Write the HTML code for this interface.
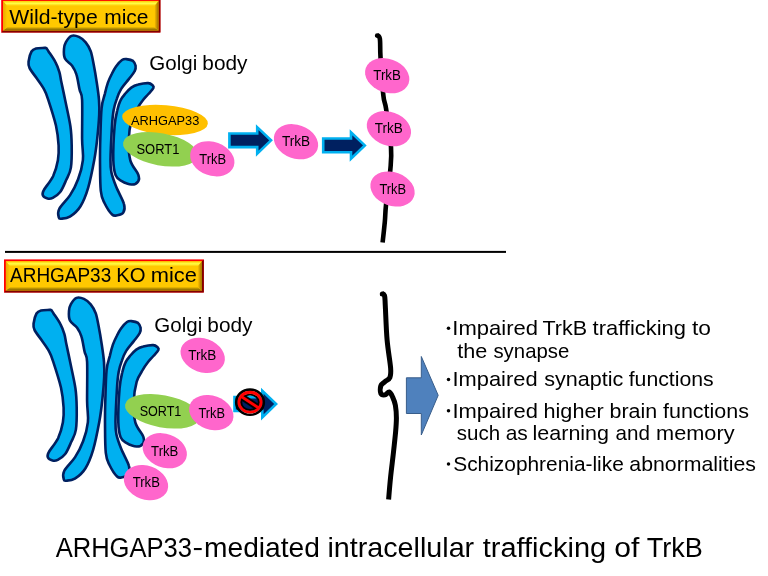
<!DOCTYPE html>
<html><head><meta charset="utf-8"><style>
html,body{margin:0;padding:0;background:#fff;width:768px;height:576px;overflow:hidden}
svg{display:block;will-change:transform}
text{font-family:"Liberation Sans",sans-serif}
</style></head><body>
<svg width="768" height="576" viewBox="0 0 768 576">
<defs>
<linearGradient id="bvT" x1="0" y1="0" x2="0" y2="1"><stop offset="0" stop-color="#FFC800"/><stop offset="0.5" stop-color="#FFFF48"/><stop offset="1" stop-color="#FFC800"/></linearGradient>
<linearGradient id="bvB" x1="0" y1="0" x2="0" y2="1"><stop offset="0" stop-color="#E0B000"/><stop offset="1" stop-color="#7A5C00"/></linearGradient>
<linearGradient id="bvL" x1="0" y1="0" x2="1" y2="0"><stop offset="0" stop-color="#E8A800"/><stop offset="1" stop-color="#FFC800"/></linearGradient>
<linearGradient id="bvR" x1="0" y1="0" x2="1" y2="0"><stop offset="0" stop-color="#FFC000"/><stop offset="1" stop-color="#987000"/></linearGradient>
</defs>
<rect x="1.2" y="-1" width="159.2" height="33.5" fill="#FF0000"/><polygon points="160.4,-1 160.4,32.5 1.2,32.5 3.1,30.6 158.5,30.6 158.5,0.9" fill="#800000"/><rect x="3.1" y="0.9" width="155.4" height="29.7" fill="#FFC800"/><polygon points="3.1,0.9 158.5,0.9 154.5,5.9 7.1,5.9" fill="url(#bvT)"/><polygon points="3.1,30.6 7.1,27.3 154.5,27.3 158.5,30.6" fill="url(#bvB)"/><polygon points="3.1,0.9 7.1,5.9 7.1,27.3 3.1,30.6" fill="url(#bvL)"/><polygon points="158.5,0.9 158.5,30.6 154.5,27.3 154.5,5.9" fill="url(#bvR)"/>
<text transform="translate(9.21,23.70) scale(1.0517,1)" font-size="20.20" fill="#000">Wild-type</text><text transform="translate(104.21,23.70) scale(1.0394,1)" font-size="20.20" fill="#000">mice</text>
<g transform="translate(0,0)" fill="#00B0F0" stroke="#002060" stroke-width="2.6" stroke-linejoin="round"><path d="M28.6,61.5 C28.9,58.7 30.3,53.6 31.5,51.5 C32.8,49.3 33.8,49.0 36.0,48.4 C38.1,47.9 42.8,48.0 44.5,47.9 C46.2,47.8 45.6,47.5 46.2,48.0 C46.8,48.6 46.9,48.9 48.4,51.2 C49.9,53.5 53.5,58.4 55.3,61.9 C57.2,65.4 58.3,68.7 59.4,72.1 C60.4,75.5 60.4,77.6 61.4,82.3 C62.4,87.0 63.7,92.9 65.2,100.3 C66.7,107.6 69.3,118.6 70.4,126.2 C71.5,133.7 71.6,138.7 71.7,145.6 C71.8,152.5 71.8,161.9 70.9,167.6 C70.0,173.3 68.1,175.7 66.3,179.8 C64.5,183.8 62.5,189.0 60.2,192.0 C58.0,195.0 54.9,196.7 52.8,197.8 C50.7,198.9 49.2,198.9 47.5,198.5 C45.9,198.1 43.5,196.8 42.9,195.5 C42.2,194.1 42.0,193.5 43.7,190.3 C45.4,187.1 50.7,181.2 53.1,176.2 C55.4,171.1 57.0,165.3 57.9,160.2 C58.8,155.1 58.9,151.3 58.6,145.5 C58.3,139.8 57.7,133.4 56.0,125.7 C54.2,118.1 50.2,105.7 48.2,99.6 C46.3,93.5 46.1,92.9 44.1,89.4 C42.2,85.8 39.1,81.8 36.7,78.3 C34.2,74.7 30.8,70.8 29.5,67.9 C28.1,65.1 28.3,64.2 28.6,61.5Z"/><path d="M64.0,48.8 C64.2,46.1 64.7,44.3 65.9,42.2 C67.2,40.0 69.3,36.8 71.5,35.9 C73.6,35.0 76.5,35.8 78.9,36.9 C81.3,38.0 83.7,39.9 85.7,42.3 C87.7,44.7 89.3,47.5 90.7,51.2 C92.0,55.0 92.7,59.5 93.7,64.6 C94.7,69.8 95.8,76.3 96.7,82.2 C97.6,88.1 98.6,94.6 99.0,100.1 C99.4,105.6 99.5,108.5 99.2,114.9 C98.9,121.4 98.0,131.4 97.2,138.9 C96.4,146.3 95.8,151.6 94.3,159.8 C92.8,167.9 90.5,179.9 88.2,187.6 C85.9,195.4 83.5,201.4 80.5,206.2 C77.5,211.1 73.1,214.6 69.9,216.7 C66.7,218.8 63.1,218.6 61.2,218.7 C59.4,218.8 59.1,219.1 58.8,217.4 C58.4,215.8 57.3,212.7 59.2,209.0 C61.1,205.2 66.9,200.1 70.1,195.1 C73.3,190.1 76.0,185.0 78.1,179.2 C80.3,173.4 82.2,166.8 82.9,160.1 C83.6,153.4 82.2,149.0 82.1,139.0 C82.0,129.0 82.5,108.1 82.1,99.9 C81.7,91.7 80.5,94.0 79.6,89.7 C78.6,85.5 77.7,78.4 76.4,74.4 C75.2,70.4 74.0,68.4 72.1,65.7 C70.1,63.1 66.3,61.3 64.9,58.4 C63.6,55.6 63.8,51.5 64.0,48.8Z"/><path d="M116.0,66.4 C117.7,64.1 120.3,61.2 122.0,60.0 C123.7,58.8 124.6,58.9 126.4,59.1 C128.2,59.3 131.4,59.8 133.0,60.9 C134.5,62.1 135.3,64.1 135.6,65.8 C135.9,67.5 135.8,69.1 134.6,71.3 C133.5,73.6 130.8,76.5 128.6,79.4 C126.3,82.3 123.1,85.7 121.2,88.9 C119.2,92.1 118.1,95.1 116.9,98.6 C115.6,102.0 114.5,105.2 113.7,109.8 C112.9,114.3 112.5,117.5 112.0,125.9 C111.5,134.3 110.6,152.2 110.5,160.0 C110.4,167.8 110.6,168.3 111.5,172.8 C112.5,177.3 114.2,181.9 116.3,187.1 C118.4,192.3 122.9,199.9 124.0,204.1 C125.2,208.3 124.5,210.5 123.4,212.3 C122.3,214.2 119.1,214.9 117.3,215.2 C115.4,215.6 114.2,216.5 112.1,214.5 C110.0,212.5 106.5,207.1 104.6,203.2 C102.7,199.2 101.5,198.1 100.8,190.9 C100.0,183.7 100.1,168.6 100.0,160.0 C100.0,151.4 100.0,147.7 100.3,139.0 C100.6,130.4 100.8,115.6 101.6,108.1 C102.3,100.6 103.7,98.3 104.8,94.1 C105.8,89.8 106.7,86.2 107.9,82.7 C109.1,79.3 110.6,76.2 112.0,73.5 C113.3,70.8 114.4,68.6 116.0,66.4Z"/><path d="M131.3,87.6 C133.5,86.1 135.5,85.3 138.3,84.6 C141.1,83.8 145.8,83.0 148.2,83.1 C150.6,83.2 151.7,84.5 152.6,85.3 C153.4,86.1 154.1,86.6 153.4,88.0 C152.7,89.5 150.3,91.8 148.4,94.0 C146.5,96.2 143.8,98.9 142.1,101.2 C140.3,103.5 139.6,104.6 137.9,107.7 C136.1,110.7 133.3,114.3 131.7,119.6 C130.2,125.0 128.9,133.2 128.7,140.0 C128.5,146.7 128.8,154.6 130.3,160.3 C131.9,166.1 136.8,171.0 138.2,174.4 C139.5,177.9 139.4,179.5 138.3,181.2 C137.2,182.9 134.4,184.6 131.6,184.5 C128.8,184.4 123.9,182.3 121.3,180.8 C118.6,179.2 116.9,178.6 115.6,175.1 C114.3,171.7 113.5,168.1 113.3,160.0 C113.1,151.8 113.9,134.4 114.6,126.1 C115.3,117.8 116.3,114.5 117.3,110.3 C118.2,106.0 119.0,103.4 120.4,100.6 C121.7,97.8 123.6,95.7 125.4,93.5 C127.2,91.4 129.2,89.1 131.3,87.6Z"/></g>
<text transform="translate(149.37,69.50) scale(1.0419,1)" font-size="19.70" fill="#000">Golgi</text><text transform="translate(202.36,69.50) scale(1.0553,1)" font-size="19.70" fill="#000">body</text>
<ellipse cx="165" cy="120" rx="43" ry="14.8" fill="#FFC000" transform="rotate(5 165 120)"/>
<text transform="translate(130.97,125.40) scale(0.9381,1)" font-size="13.66" fill="#000">ARHGAP33</text>
<ellipse cx="160.5" cy="149.3" rx="38" ry="16.1" fill="#92D050" transform="rotate(10.5 160.5 149.3)"/>
<text transform="translate(136.41,153.80) scale(0.9237,1)" font-size="14.04" fill="#000">SORT1</text>
<ellipse cx="212.3" cy="158.8" rx="22.8" ry="16.8" fill="#FF66CC" transform="rotate(20 212.3 158.8)"/><text transform="translate(199.31,164.00) scale(0.9164,1)" font-size="14.10" fill="#000">TrkB</text>
<polygon points="229.40,133.45 257.20,133.45 257.20,127.18 271.02,140.31 257.20,153.68 257.20,147.15 229.40,147.15" fill="#002060" stroke="#00B0F0" stroke-width="2.6" stroke-linejoin="miter" stroke-miterlimit="10"/>
<ellipse cx="296" cy="141.7" rx="22.8" ry="16.8" fill="#FF66CC" transform="rotate(20 296 141.7)"/><text transform="translate(281.89,145.80) scale(0.9651,1)" font-size="14.10" fill="#000">TrkB</text>
<polygon points="323.20,138.55 351.00,138.55 351.00,132.28 364.82,145.41 351.00,158.78 351.00,152.25 323.20,152.25" fill="#002060" stroke="#00B0F0" stroke-width="2.6" stroke-linejoin="miter" stroke-miterlimit="10"/>
<path d="M376.5,34.8 C377.1,35.4 379.1,34.8 379.8,38.5 C380.5,42.2 379.9,47.6 380.5,57.0 C381.1,66.4 382.4,86.3 383.3,95.0 C384.2,103.7 384.8,100.2 386.1,108.9 C387.4,117.6 390.3,136.8 391.0,147.0 C391.7,157.2 391.1,160.3 390.3,170.0 C389.5,179.7 386.9,196.3 386.0,205.0 C385.1,213.7 385.4,215.8 384.8,222.0 C384.2,228.2 383.0,239.1 382.6,242.5" fill="none" stroke="#000" stroke-width="4.6" stroke-linecap="butt" stroke-linejoin="round"/>
<circle cx="377.2" cy="35.6" r="2.3" fill="#000"/>
<ellipse cx="387.2" cy="75.7" rx="22.8" ry="16.8" fill="#FF66CC" transform="rotate(20 387.2 75.7)"/><text transform="translate(373.30,79.90) scale(0.9442,1)" font-size="14.10" fill="#000">TrkB</text>
<ellipse cx="388.9" cy="128.7" rx="22.8" ry="16.8" fill="#FF66CC" transform="rotate(20 388.9 128.7)"/><text transform="translate(374.70,133.20) scale(0.9582,1)" font-size="14.10" fill="#000">TrkB</text>
<ellipse cx="392.5" cy="189" rx="22.8" ry="16.8" fill="#FF66CC" transform="rotate(20 392.5 189)"/><text transform="translate(379.41,193.60) scale(0.9129,1)" font-size="14.10" fill="#000">TrkB</text>
<rect x="5" y="250.9" width="501" height="2" fill="#000"/>
<rect x="4" y="259.4" width="199.8" height="33.1" fill="#FF0000"/><polygon points="203.8,259.4 203.8,292.5 4,292.5 5.9,290.6 201.9,290.6 201.9,261.3" fill="#800000"/><rect x="5.9" y="261.3" width="196" height="29.3" fill="#FFC800"/><polygon points="5.9,261.3 201.9,261.3 197.9,266.3 9.9,266.3" fill="url(#bvT)"/><polygon points="5.9,290.6 9.9,287.3 197.9,287.3 201.9,290.6" fill="url(#bvB)"/><polygon points="5.9,261.3 9.9,266.3 9.9,287.3 5.9,290.6" fill="url(#bvL)"/><polygon points="201.9,261.3 201.9,290.6 197.9,287.3 197.9,266.3" fill="url(#bvR)"/>
<text transform="translate(10.06,282.40) scale(0.9387,1)" font-size="20.20" fill="#000">ARHGAP33</text><text transform="translate(116.33,282.40) scale(1.0052,1)" font-size="20.20" fill="#000">KO</text><text transform="translate(150.85,282.40) scale(1.0814,1)" font-size="20.20" fill="#000">mice</text>
<g transform="translate(5,262)" fill="#00B0F0" stroke="#002060" stroke-width="2.6" stroke-linejoin="round"><path d="M28.6,61.5 C28.9,58.7 30.3,53.6 31.5,51.5 C32.8,49.3 33.8,49.0 36.0,48.4 C38.1,47.9 42.8,48.0 44.5,47.9 C46.2,47.8 45.6,47.5 46.2,48.0 C46.8,48.6 46.9,48.9 48.4,51.2 C49.9,53.5 53.5,58.4 55.3,61.9 C57.2,65.4 58.3,68.7 59.4,72.1 C60.4,75.5 60.4,77.6 61.4,82.3 C62.4,87.0 63.7,92.9 65.2,100.3 C66.7,107.6 69.3,118.6 70.4,126.2 C71.5,133.7 71.6,138.7 71.7,145.6 C71.8,152.5 71.8,161.9 70.9,167.6 C70.0,173.3 68.1,175.7 66.3,179.8 C64.5,183.8 62.5,189.0 60.2,192.0 C58.0,195.0 54.9,196.7 52.8,197.8 C50.7,198.9 49.2,198.9 47.5,198.5 C45.9,198.1 43.5,196.8 42.9,195.5 C42.2,194.1 42.0,193.5 43.7,190.3 C45.4,187.1 50.7,181.2 53.1,176.2 C55.4,171.1 57.0,165.3 57.9,160.2 C58.8,155.1 58.9,151.3 58.6,145.5 C58.3,139.8 57.7,133.4 56.0,125.7 C54.2,118.1 50.2,105.7 48.2,99.6 C46.3,93.5 46.1,92.9 44.1,89.4 C42.2,85.8 39.1,81.8 36.7,78.3 C34.2,74.7 30.8,70.8 29.5,67.9 C28.1,65.1 28.3,64.2 28.6,61.5Z"/><path d="M64.0,48.8 C64.2,46.1 64.7,44.3 65.9,42.2 C67.2,40.0 69.3,36.8 71.5,35.9 C73.6,35.0 76.5,35.8 78.9,36.9 C81.3,38.0 83.7,39.9 85.7,42.3 C87.7,44.7 89.3,47.5 90.7,51.2 C92.0,55.0 92.7,59.5 93.7,64.6 C94.7,69.8 95.8,76.3 96.7,82.2 C97.6,88.1 98.6,94.6 99.0,100.1 C99.4,105.6 99.5,108.5 99.2,114.9 C98.9,121.4 98.0,131.4 97.2,138.9 C96.4,146.3 95.8,151.6 94.3,159.8 C92.8,167.9 90.5,179.9 88.2,187.6 C85.9,195.4 83.5,201.4 80.5,206.2 C77.5,211.1 73.1,214.6 69.9,216.7 C66.7,218.8 63.1,218.6 61.2,218.7 C59.4,218.8 59.1,219.1 58.8,217.4 C58.4,215.8 57.3,212.7 59.2,209.0 C61.1,205.2 66.9,200.1 70.1,195.1 C73.3,190.1 76.0,185.0 78.1,179.2 C80.3,173.4 82.2,166.8 82.9,160.1 C83.6,153.4 82.2,149.0 82.1,139.0 C82.0,129.0 82.5,108.1 82.1,99.9 C81.7,91.7 80.5,94.0 79.6,89.7 C78.6,85.5 77.7,78.4 76.4,74.4 C75.2,70.4 74.0,68.4 72.1,65.7 C70.1,63.1 66.3,61.3 64.9,58.4 C63.6,55.6 63.8,51.5 64.0,48.8Z"/><path d="M116.0,66.4 C117.7,64.1 120.3,61.2 122.0,60.0 C123.7,58.8 124.6,58.9 126.4,59.1 C128.2,59.3 131.4,59.8 133.0,60.9 C134.5,62.1 135.3,64.1 135.6,65.8 C135.9,67.5 135.8,69.1 134.6,71.3 C133.5,73.6 130.8,76.5 128.6,79.4 C126.3,82.3 123.1,85.7 121.2,88.9 C119.2,92.1 118.1,95.1 116.9,98.6 C115.6,102.0 114.5,105.2 113.7,109.8 C112.9,114.3 112.5,117.5 112.0,125.9 C111.5,134.3 110.6,152.2 110.5,160.0 C110.4,167.8 110.6,168.3 111.5,172.8 C112.5,177.3 114.2,181.9 116.3,187.1 C118.4,192.3 122.9,199.9 124.0,204.1 C125.2,208.3 124.5,210.5 123.4,212.3 C122.3,214.2 119.1,214.9 117.3,215.2 C115.4,215.6 114.2,216.5 112.1,214.5 C110.0,212.5 106.5,207.1 104.6,203.2 C102.7,199.2 101.5,198.1 100.8,190.9 C100.0,183.7 100.1,168.6 100.0,160.0 C100.0,151.4 100.0,147.7 100.3,139.0 C100.6,130.4 100.8,115.6 101.6,108.1 C102.3,100.6 103.7,98.3 104.8,94.1 C105.8,89.8 106.7,86.2 107.9,82.7 C109.1,79.3 110.6,76.2 112.0,73.5 C113.3,70.8 114.4,68.6 116.0,66.4Z"/><path d="M131.3,87.6 C133.5,86.1 135.5,85.3 138.3,84.6 C141.1,83.8 145.8,83.0 148.2,83.1 C150.6,83.2 151.7,84.5 152.6,85.3 C153.4,86.1 154.1,86.6 153.4,88.0 C152.7,89.5 150.3,91.8 148.4,94.0 C146.5,96.2 143.8,98.9 142.1,101.2 C140.3,103.5 139.6,104.6 137.9,107.7 C136.1,110.7 133.3,114.3 131.7,119.6 C130.2,125.0 128.9,133.2 128.7,140.0 C128.5,146.7 128.8,154.6 130.3,160.3 C131.9,166.1 136.8,171.0 138.2,174.4 C139.5,177.9 139.4,179.5 138.3,181.2 C137.2,182.9 134.4,184.6 131.6,184.5 C128.8,184.4 123.9,182.3 121.3,180.8 C118.6,179.2 116.9,178.6 115.6,175.1 C114.3,171.7 113.5,168.1 113.3,160.0 C113.1,151.8 113.9,134.4 114.6,126.1 C115.3,117.8 116.3,114.5 117.3,110.3 C118.2,106.0 119.0,103.4 120.4,100.6 C121.7,97.8 123.6,95.7 125.4,93.5 C127.2,91.4 129.2,89.1 131.3,87.6Z"/></g>
<text transform="translate(154.37,331.50) scale(1.0419,1)" font-size="19.70" fill="#000">Golgi</text><text transform="translate(207.36,331.50) scale(1.0553,1)" font-size="19.70" fill="#000">body</text>
<ellipse cx="202.7" cy="355.4" rx="22.8" ry="16.8" fill="#FF66CC" transform="rotate(20 202.7 355.4)"/><text transform="translate(188.30,360.10) scale(0.9582,1)" font-size="14.10" fill="#000">TrkB</text>
<ellipse cx="162.5" cy="411.3" rx="38" ry="16.1" fill="#92D050" transform="rotate(10.5 162.5 411.3)"/>
<text transform="translate(139.63,415.80) scale(0.8973,1)" font-size="14.04" fill="#000">SORT1</text>
<ellipse cx="211.3" cy="412.6" rx="22.8" ry="16.8" fill="#FF66CC" transform="rotate(20 211.3 412.6)"/><text transform="translate(198.46,417.90) scale(0.9076,1)" font-size="14.10" fill="#000">TrkB</text>
<ellipse cx="164.75" cy="450.7" rx="22.8" ry="16.8" fill="#FF66CC" transform="rotate(20 164.75 450.7)"/><text transform="translate(151.10,455.60) scale(0.9338,1)" font-size="14.10" fill="#000">TrkB</text>
<ellipse cx="146" cy="482.6" rx="22.8" ry="16.8" fill="#FF66CC" transform="rotate(20 146 482.6)"/><text transform="translate(132.71,487.20) scale(0.9303,1)" font-size="14.10" fill="#000">TrkB</text>
<polygon points="234.50,397.15 262.30,397.15 262.30,390.88 276.12,404.01 262.30,417.38 262.30,410.85 234.50,410.85" fill="#002060" stroke="#00B0F0" stroke-width="2.6" stroke-linejoin="miter" stroke-miterlimit="10"/>
<clipPath id="sgn"><ellipse cx="250" cy="402.2" rx="10.9" ry="9.75"/></clipPath>
<ellipse cx="250" cy="402.2" rx="13.8" ry="12.6" fill="none" stroke="#000" stroke-width="2.6"/>
<ellipse cx="250" cy="402.2" rx="8.8" ry="7.7" fill="none" stroke="#000" stroke-width="2.0"/>
<g clip-path="url(#sgn)"><line x1="236" y1="393" x2="264" y2="411.5" stroke="#000" stroke-width="6.6"/><line x1="236" y1="393" x2="264" y2="411.5" stroke="#FF0000" stroke-width="2.8"/></g>
<ellipse cx="250" cy="402.2" rx="11.1" ry="9.95" fill="none" stroke="#FF0000" stroke-width="2.8"/>
<path d="M381.5,293.2 C382.0,293.6 383.9,293.4 384.5,295.5 C385.1,297.6 384.9,298.4 385.3,305.8 C385.7,313.2 386.2,329.7 387.1,340.0 C388.0,350.3 390.1,361.6 390.6,367.8 C391.1,374.1 390.8,375.2 389.9,377.5 C389.0,379.8 386.5,380.3 385.0,381.7 C383.5,383.1 381.5,383.8 380.8,385.8 C380.1,387.8 380.1,392.0 380.8,393.5 C381.5,395.0 383.6,395.1 385.0,394.9 C386.4,394.6 387.9,391.6 389.2,392.0 C390.5,392.4 391.6,394.8 392.6,397.0 C393.6,399.2 394.8,401.8 395.4,405.3 C396.0,408.8 396.4,413.6 396.4,418.0 C396.4,422.4 396.1,426.3 395.6,432.0 C395.1,437.7 394.3,444.5 393.5,452.0 C392.7,459.5 391.4,469.1 390.6,477.0 C389.8,484.9 388.9,495.8 388.6,499.5" fill="none" stroke="#000" stroke-width="5" stroke-linecap="butt" stroke-linejoin="round"/>
<circle cx="382.3" cy="294" r="2.5" fill="#000"/>
<polygon points="406.4,377.8 421.3,377.8 421.3,356.5 438.2,395.3 421.3,435 421.3,413.5 406.4,413.5" fill="#4F81BD" stroke="#385D8A" stroke-width="1"/>
<text transform="translate(452.37,335.10) scale(1.1021,1)" font-size="20.00" fill="#000">Impaired</text><text transform="translate(542.42,335.10) scale(1.0758,1)" font-size="20.00" fill="#000">TrkB</text><text transform="translate(592.57,335.10) scale(1.0965,1)" font-size="20.00" fill="#000">trafficking</text><text transform="translate(691.96,335.10) scale(1.1392,1)" font-size="20.00" fill="#000">to</text>
<circle cx="448.5" cy="328.30" r="1.75" fill="#000"/>
<text transform="translate(452.48,386.30) scale(1.0940,1)" font-size="20.00" fill="#000">Impaired</text><text transform="translate(544.20,386.30) scale(1.0791,1)" font-size="20.00" fill="#000">synaptic</text><text transform="translate(628.70,386.30) scale(1.0627,1)" font-size="20.00" fill="#000">functions</text>
<circle cx="448.5" cy="379.50" r="1.75" fill="#000"/>
<text transform="translate(452.47,417.60) scale(1.0981,1)" font-size="20.00" fill="#000">Impaired</text><text transform="translate(543.50,417.60) scale(1.0840,1)" font-size="20.00" fill="#000">higher</text><text transform="translate(609.52,417.60) scale(1.0720,1)" font-size="20.00" fill="#000">brain</text><text transform="translate(663.00,417.60) scale(1.0741,1)" font-size="20.00" fill="#000">functions</text>
<circle cx="448.5" cy="410.80" r="1.75" fill="#000"/>
<text transform="translate(453.25,470.80) scale(1.0438,1)" font-size="20.00" fill="#000">Schizophrenia-like</text><text transform="translate(629.30,470.80) scale(1.0650,1)" font-size="20.00" fill="#000">abnormalities</text>
<circle cx="448.5" cy="464.00" r="1.75" fill="#000"/>
<text transform="translate(457.27,357.50) scale(1.0822,1)" font-size="20.00" fill="#000">the</text><text transform="translate(493.43,357.50) scale(1.0199,1)" font-size="20.00" fill="#000">synapse</text>
<text transform="translate(456.83,440.40) scale(1.0250,1)" font-size="20.00" fill="#000">such</text><text transform="translate(505.71,440.40) scale(1.0486,1)" font-size="20.00" fill="#000">as</text><text transform="translate(532.55,440.40) scale(1.0755,1)" font-size="20.00" fill="#000">learning</text><text transform="translate(615.62,440.40) scale(1.0310,1)" font-size="20.00" fill="#000">and</text><text transform="translate(656.05,440.40) scale(1.0881,1)" font-size="20.00" fill="#000">memory</text>
<text transform="translate(55.65,557.00) scale(0.9474,1)" font-size="27.00" fill="#000">ARHGAP33</text><text transform="translate(204.03,557.00) scale(1.0433,1)" font-size="27.00" fill="#000">mediated</text><text transform="translate(327.38,557.00) scale(1.0640,1)" font-size="27.00" fill="#000">intracellular</text><text transform="translate(482.76,557.00) scale(1.0724,1)" font-size="27.00" fill="#000">trafficking</text><text transform="translate(614.24,557.00) scale(1.1156,1)" font-size="27.00" fill="#000">of</text><text transform="translate(646.69,557.00) scale(1.0025,1)" font-size="27.00" fill="#000">TrkB</text>
<rect x="193.9" y="548" width="7.8" height="2.1" fill="#000"/>
</svg></body></html>
